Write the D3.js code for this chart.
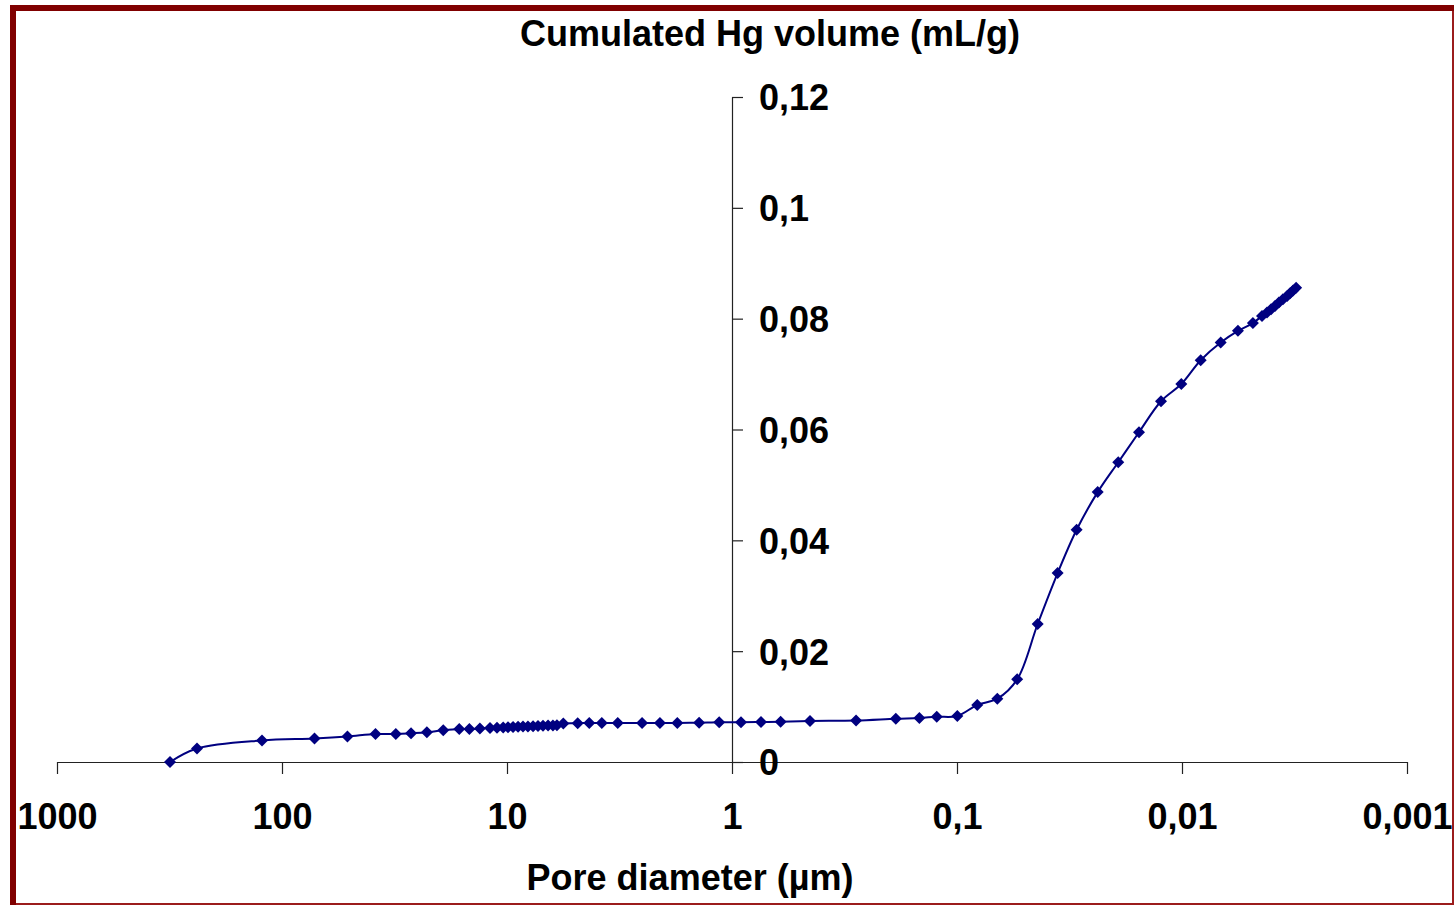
<!DOCTYPE html>
<html>
<head>
<meta charset="utf-8">
<script src="https://cdn.jsdelivr.net/npm/d3@7"></script>
<style>
  html, body { margin: 0; padding: 0; background: #fff; }
  svg { display: block; }
  text { font-family: "Liberation Sans", Arial, sans-serif; font-weight: bold; fill: #000; }
</style>
</head>
<body>
<svg id="chart" width="1455" height="905"></svg>
<script>
// Pore diameter (µm) and cumulated Hg volume (mL/g)
const poreDiameter = [
  314.6, 238.7, 122.7, 71.7, 51.2, 38.4, 31.2, 26.7, 22.7, 19.2,
  16.3, 14.7, 13.2, 11.9, 11.08, 10.4, 9.9, 9.4, 8.93, 8.49,
  8.07, 7.66, 7.28, 6.92, 6.57, 6.25, 6.0, 5.62, 4.85, 4.31,
  3.79, 3.22, 2.51, 2.09, 1.75, 1.40, 1.14, 0.912, 0.743, 0.608,
  0.450, 0.281, 0.187, 0.147, 0.123, 0.0997, 0.0813, 0.0662, 0.054, 0.0438,
  0.0357, 0.0294, 0.0237, 0.0192, 0.01553, 0.0124, 0.01007, 0.00826, 0.00673, 0.00564,
  0.00484, 0.00441, 0.00419, 0.00402, 0.00386, 0.00371, 0.00356, 0.00341, 0.00331, 0.00321,
  0.00311
];
const hgVolume = [
  0.0, 0.00244, 0.00388, 0.00424, 0.0046, 0.00505, 0.00505, 0.00518, 0.00536, 0.00572,
  0.00595, 0.00595, 0.00604, 0.00614, 0.00619, 0.00623, 0.00628, 0.00632, 0.00635, 0.00639,
  0.00642, 0.00646, 0.0065, 0.00653, 0.00657, 0.0066, 0.00664, 0.00695, 0.007, 0.00704,
  0.00704, 0.00704, 0.00704, 0.00704, 0.00704, 0.00709, 0.00716, 0.00716, 0.00722, 0.00727,
  0.0074, 0.00749, 0.00781, 0.00794, 0.00817, 0.0083, 0.01029, 0.01142, 0.01492, 0.0249,
  0.0341, 0.0419, 0.0487, 0.0541, 0.0595, 0.0651, 0.0682, 0.0725, 0.0757, 0.0778,
  0.0792, 0.0805, 0.0811, 0.0817, 0.0823, 0.0829, 0.0835, 0.0841, 0.0846, 0.0851,
  0.0856
];
const xTicks = [1000, 100, 10, 1, 0.1, 0.01, 0.001];
const yTicks = [0, 0.02, 0.04, 0.06, 0.08, 0.1, 0.12];
const yTitle = "Cumulated Hg volume (mL/g)";
const xTitle = "Pore diameter (µm)";

const svg = d3.select("#chart");
const fmt = d => String(d).replace(".", ",");
const FONT = "'Liberation Sans', Arial, sans-serif";

// frame
svg.append("rect").attr("x", 11).attr("y", 6).attr("width", 1442).attr("height", 898)
  .attr("fill", "#fff").attr("stroke", "#9b1c1c").attr("stroke-width", 2);
svg.append("rect").attr("x", 10).attr("y", 5).attr("width", 1444).attr("height", 6).attr("fill", "#800000");
svg.append("rect").attr("x", 10).attr("y", 5).attr("width", 6).attr("height", 900).attr("fill", "#800000");

const x = d3.scaleLog().domain([1000, 0.001]).range([57, 1407]);
const y = d3.scaleLinear().domain([0, 0.12]).range([762, 97]);

// x axis
const gx = svg.append("g").attr("transform", `translate(0,${y(0)})`)
  .call(d3.axisBottom(x).tickValues(xTicks).tickSize(12).tickSizeOuter(0).tickFormat(fmt));
gx.select(".domain").attr("stroke", "#222").attr("stroke-width", 1.2);
gx.selectAll(".tick line").attr("stroke", "#222").attr("stroke-width", 1.2);
gx.selectAll(".tick text").attr("y", 67).attr("dy", 0)
  .style("font-size", "36px").style("font-family", FONT)
  .style("font-weight", "bold").attr("fill", "#000");

// y axis
const gy = svg.append("g").attr("transform", `translate(${x(1)},0)`)
  .call(d3.axisRight(y).tickValues(yTicks).tickSize(11).tickSizeOuter(0).tickFormat(fmt));
gy.select(".domain").attr("stroke", "#222").attr("stroke-width", 1.2);
gy.selectAll(".tick line").attr("stroke", "#222").attr("stroke-width", 1.2);
gy.selectAll(".tick text").attr("x", 27).attr("dy", "0.36em").attr("text-anchor", "start")
  .style("font-size", "36px").style("font-family", FONT)
  .style("font-weight", "bold").attr("fill", "#000");

// titles
svg.append("text").attr("x", 770).attr("y", 46).attr("text-anchor", "middle")
  .style("font-size", "36px").text(yTitle);
svg.append("text").attr("x", 690).attr("y", 890).attr("text-anchor", "middle")
  .style("font-size", "36px").text(xTitle);

// data
const data = poreDiameter.map((d, i) => ({ d, v: hgVolume[i] }));
const line = d3.line().x(p => x(p.d)).y(p => y(p.v)).curve(d3.curveCatmullRom.alpha(0.5));
svg.append("path").datum(data).attr("d", line)
  .attr("fill", "none").attr("stroke", "#000080").attr("stroke-width", 2);

const s = 6;
svg.append("g").selectAll("path").data(data).join("path")
  .attr("transform", p => `translate(${x(p.d)},${y(p.v)})`)
  .attr("d", `M0,${-s}L${s},0L0,${s}L${-s},0Z`)
  .attr("fill", "#000080");
</script>
</body>
</html>
